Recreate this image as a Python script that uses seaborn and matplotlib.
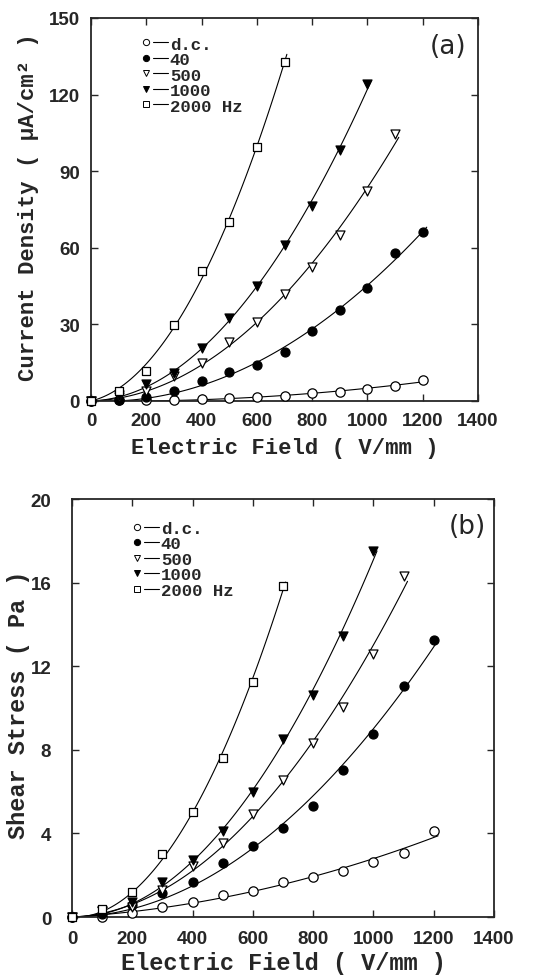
import numpy as np
import pandas as pd
import matplotlib
matplotlib.use("Agg")
import matplotlib.pyplot as plt
from matplotlib.lines import Line2D
from matplotlib.legend_handler import HandlerTuple
import seaborn as sns

# ---------------- data ----------------
series_names = ["d.c.", "40", "500", "1000", "2000 Hz"]

field_a_dc = [0, 100, 200, 300, 400, 500, 600, 700, 800, 900, 1000, 1100, 1200]
current_dc = [0, 0.2, 0.3, 0.5, 0.8, 1.0, 1.5, 2.0, 3.0, 3.5, 4.5, 6.0, 8.2]
field_a_40 = [0, 100, 200, 300, 400, 500, 600, 700, 800, 900, 1000, 1100, 1200]
current_40 = [0, 0.5, 1.5, 3.8, 7.9, 11.4, 14.0, 19.3, 27.4, 35.8, 44.3, 57.9, 66.0]
field_a_500 = [0, 100, 200, 300, 400, 500, 600, 700, 800, 900, 1000, 1100]
current_500 = [0, 1.5, 4.0, 9.8, 14.8, 22.9, 30.9, 41.7, 52.3, 65.0, 82.2, 104.4]
field_a_1000 = [0, 100, 200, 300, 400, 500, 600, 700, 800, 900, 1000]
current_1000 = [0, 2.2, 6.6, 10.8, 20.9, 32.6, 44.9, 60.9, 76.5, 98.3, 124.0]
field_a_2000 = [0, 100, 200, 300, 400, 500, 600, 700]
current_2000 = [0, 3.9, 11.8, 29.7, 51.0, 70.2, 99.3, 132.8]

field_b_dc = [0, 100, 200, 300, 400, 500, 600, 700, 800, 900, 1000, 1100, 1200]
stress_dc = [0, 0.0, 0.2, 0.49, 0.73, 1.06, 1.25, 1.66, 1.91, 2.21, 2.65, 3.08, 4.1]
field_b_40 = [0, 100, 200, 300, 400, 500, 600, 700, 800, 900, 1000, 1100, 1200]
stress_40 = [0, 0.15, 0.6, 1.15, 1.7, 2.6, 3.38, 4.26, 5.33, 7.05, 8.76, 11.07, 13.25]
field_b_500 = [0, 100, 200, 300, 400, 500, 600, 700, 800, 900, 1000, 1100]
stress_500 = [0, 0.3, 0.5, 1.3, 2.45, 3.52, 4.95, 6.55, 8.35, 10.06, 12.58, 16.33]
field_b_1000 = [0, 100, 200, 300, 400, 500, 600, 700, 800, 900, 1000]
stress_1000 = [0, 0.3, 0.7, 1.66, 2.73, 4.13, 6.0, 8.52, 10.62, 13.46, 17.5]
field_b_2000 = [0, 100, 200, 300, 400, 500, 600, 700]
stress_2000 = [0, 0.4, 1.18, 3.0, 5.04, 7.6, 11.27, 15.86]

xticks = [0, 200, 400, 600, 800, 1000, 1200, 1400]
yticks_a = [0, 30, 60, 90, 120, 150]
yticks_b = [0, 4, 8, 12, 16, 20]

# ---------------- style ----------------
sns.set_style("ticks")
plt.rcParams["font.family"] = ["Liberation Mono", "DejaVu Sans"]

markers = {"d.c.": "o", "40": "o", "500": "v", "1000": "v", "2000 Hz": "s"}
filled = {"d.c.": False, "40": True, "500": False, "1000": True, "2000 Hz": False}
msize = {"d.c.": 45, "40": 42, "500": 42, "1000": 42, "2000 Hz": 32}

def make_df(fields, values):
    rows = []
    for name, xs, ys in zip(series_names, fields, values):
        for x, y in zip(xs, ys):
            rows.append({"field": x, "value": y, "series": name})
    return pd.DataFrame(rows)

df_a = make_df([field_a_dc, field_a_40, field_a_500, field_a_1000, field_a_2000],
               [current_dc, current_40, current_500, current_1000, current_2000])
df_b = make_df([field_b_dc, field_b_40, field_b_500, field_b_1000, field_b_2000],
               [stress_dc, stress_40, stress_500, stress_1000, stress_2000])

def fit_curve(sub):
    x = sub["field"].to_numpy(float)
    y = sub["value"].to_numpy(float)
    A = np.column_stack([x, x ** 2])
    coef, *_ = np.linalg.lstsq(A, y, rcond=None)
    xs = np.linspace(0, x.max() * 1.012, 120)
    ys = coef[0] * xs + coef[1] * xs ** 2
    return pd.DataFrame({"field": xs, "value": ys})

fig = plt.figure(figsize=(5.49, 9.78), dpi=100)
ax_a = fig.add_axes([0.1658, 0.589, 0.705, 0.3916])
ax_b = fig.add_axes([0.1311, 0.0613, 0.7687, 0.4274])

tick_font = dict(family="Liberation Sans", weight="bold", size=13.5)

def draw_panel(ax, df, yticks, ylabel, label_size, tag, tag_pos, leg_anchor,
               ypad, xpad, xlabelpad, ylabel_x):
    for name in series_names:
        sub = df[df["series"] == name]
        curve = fit_curve(sub)
        sns.lineplot(data=curve, x="field", y="value", ax=ax, color="black",
                     linewidth=0.8, zorder=2, legend=False)
    for name in series_names:
        sub = df[df["series"] == name]
        sns.scatterplot(data=sub, x="field", y="value", ax=ax,
                        marker=markers[name], s=msize[name],
                        color="black" if filled[name] else "white",
                        edgecolor="black", linewidth=0.9, zorder=3, legend=False,
                        clip_on=False)
    ax.set_xlim(0, 1400)
    ax.set_ylim(yticks[0], yticks[-1])
    ax.set_xticks(xticks)
    ax.set_yticks(yticks)
    ax.set_xticklabels([str(t) for t in xticks], fontdict=tick_font)
    ax.set_yticklabels([str(t) for t in yticks], fontdict=tick_font)
    ax.tick_params(direction="in", top=True, right=True, length=5, width=1)
    ax.tick_params(axis="y", pad=ypad)
    ax.tick_params(axis="x", pad=xpad)
    for sp in ax.spines.values():
        sp.set_linewidth(1.3)
        sp.set_visible(True)
    ax.set_xlabel("Electric Field ( V/mm )", fontsize=label_size,
                  family="Liberation Mono", weight="bold", labelpad=xlabelpad)
    ax.set_ylabel(ylabel, fontsize=label_size, family=["Liberation Mono", "DejaVu Sans"],
                  weight="bold")
    ax.yaxis.set_label_coords(ylabel_x, 0.51)
    ax.text(tag_pos[0], tag_pos[1], tag, transform=ax.transAxes, fontsize=19,
            family="DejaVu Sans", ha="center", va="center")
    handles = []
    for name in series_names:
        mk = Line2D([], [], linestyle="none", marker=markers[name], markersize=4.5,
                    markerfacecolor="black" if filled[name] else "white",
                    markeredgecolor="black", markeredgewidth=0.7)
        ln = Line2D([], [], color="black", linewidth=0.8)
        handles.append((mk, ln))
    ax.legend(handles, series_names, handler_map={tuple: HandlerTuple(ndivide=None, pad=0.0)},
              loc="upper left", bbox_to_anchor=leg_anchor, frameon=False,
              handlelength=1.7, handletextpad=0.1, labelspacing=0.02,
              borderaxespad=0, prop=dict(family="Liberation Mono", weight="bold", size=12.5))

draw_panel(ax_a, df_a, yticks_a, "Current Density ( μA/cm² )", 16, "(a)",
           (0.922, 0.927), (0.105, 0.97), ypad=8, xpad=8, xlabelpad=6, ylabel_x=-0.135)
draw_panel(ax_b, df_b, yticks_b, "Shear Stress ( Pa )", 17, "(b)",
           (0.936, 0.935), (0.12, 0.965), ypad=15, xpad=9, xlabelpad=3, ylabel_x=-0.1)

fig.savefig("out.png", dpi=100)
